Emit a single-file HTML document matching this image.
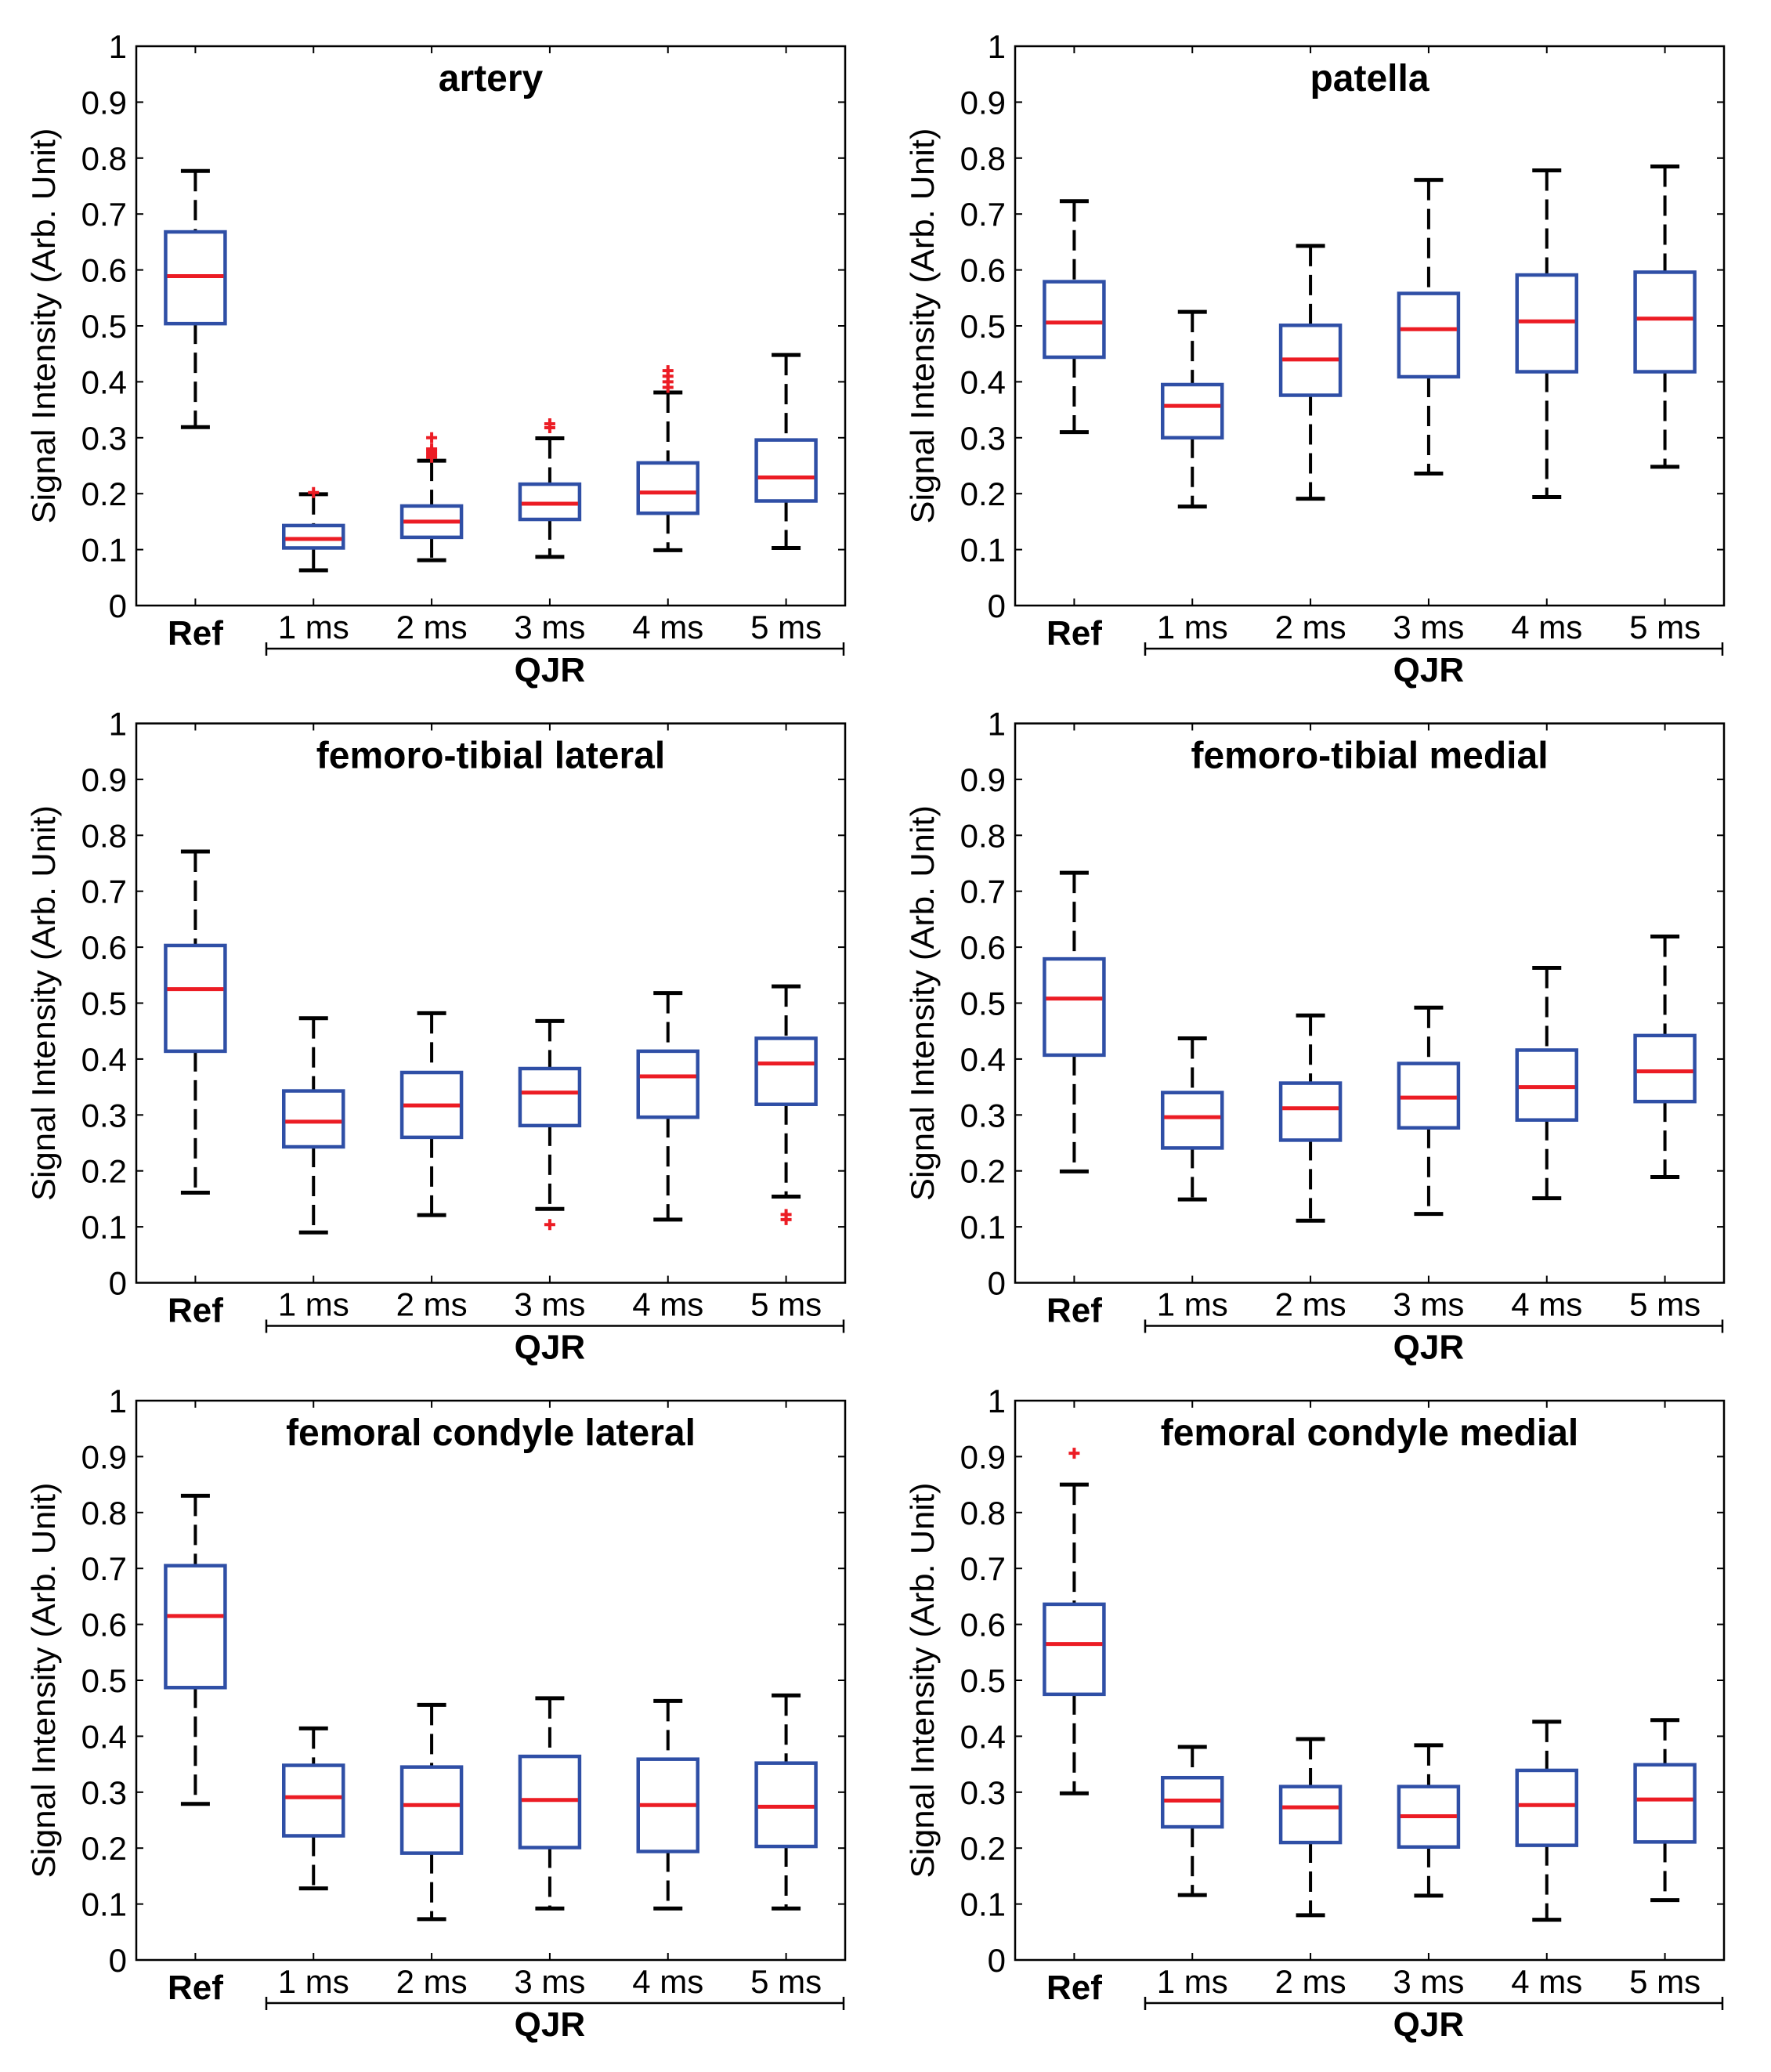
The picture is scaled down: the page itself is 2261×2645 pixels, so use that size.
<!DOCTYPE html>
<html><head><meta charset="utf-8"><style>
html,body{margin:0;padding:0;background:#fff;}
svg{display:block;font-family:"Liberation Sans",Arial,sans-serif;}
</style></head><body>
<svg id="fig" xmlns="http://www.w3.org/2000/svg" width="2261" height="2645" viewBox="0 0 2261 2645"></svg>
<script>
const categories = ["Ref","1 ms","2 ms","3 ms","4 ms","5 ms"];
const panelTitles = ["artery","patella","femoro-tibial lateral","femoro-tibial medial","femoral condyle lateral","femoral condyle medial"];
const yTickLabels = ["0","0.1","0.2","0.3","0.4","0.5","0.6","0.7","0.8","0.9","1"];
const yTickValues = [0,0.1,0.2,0.3,0.4,0.5,0.6,0.7,0.8,0.9,1];
const whiskerLow = [
 [0.319,0.063,0.081,0.087,0.099,0.103],
 [0.310,0.177,0.191,0.236,0.194,0.248],
 [0.161,0.090,0.121,0.132,0.113,0.154],
 [0.199,0.149,0.111,0.123,0.151,0.189],
 [0.279,0.128,0.073,0.092,0.092,0.092],
 [0.298,0.116,0.080,0.115,0.072,0.107]];
const q1Values = [
 [0.504,0.103,0.122,0.154,0.165,0.187],
 [0.444,0.300,0.376,0.409,0.418,0.418],
 [0.414,0.243,0.260,0.281,0.296,0.319],
 [0.407,0.241,0.255,0.277,0.291,0.324],
 [0.487,0.222,0.191,0.201,0.194,0.203],
 [0.475,0.238,0.210,0.202,0.205,0.211]];
const medianValues = [
 [0.589,0.119,0.150,0.182,0.202,0.229],
 [0.506,0.357,0.440,0.494,0.508,0.513],
 [0.525,0.288,0.317,0.340,0.369,0.392],
 [0.508,0.296,0.312,0.331,0.350,0.378],
 [0.615,0.291,0.277,0.286,0.277,0.274],
 [0.565,0.285,0.273,0.257,0.277,0.287]];
const q3Values = [
 [0.668,0.143,0.178,0.217,0.255,0.296],
 [0.579,0.395,0.501,0.558,0.591,0.596],
 [0.603,0.343,0.376,0.383,0.414,0.437],
 [0.579,0.340,0.357,0.392,0.416,0.442],
 [0.705,0.348,0.345,0.364,0.359,0.352],
 [0.636,0.326,0.310,0.310,0.339,0.349]];
const whiskerHigh = [
 [0.777,0.199,0.259,0.299,0.381,0.448],
 [0.723,0.525,0.643,0.761,0.778,0.785],
 [0.771,0.473,0.482,0.468,0.518,0.530],
 [0.733,0.437,0.478,0.492,0.563,0.619],
 [0.830,0.414,0.456,0.468,0.463,0.473],
 [0.850,0.381,0.395,0.384,0.426,0.429]];
const outlierValues = [
 [[],[0.202],[0.265,0.27,0.275,0.28,0.30],[0.318,0.325],[0.39,0.40,0.41,0.42],[]],
 [[],[],[],[],[],[]],
 [[],[],[],[0.104],[],[0.113,0.122]],
 [[],[],[],[],[],[]],
 [[],[],[],[],[],[]],
 [[0.906],[],[],[],[],[]]];

const NS="http://www.w3.org/2000/svg";
const svg=document.getElementById('fig');
const colX=[174,1296], rowY=[59,923.5,1788];
const W=905, H=714;
function mk(tag,attrs,parent){const e=document.createElementNS(NS,tag);for(const k in attrs)e.setAttribute(k,attrs[k]);(parent||svg).appendChild(e);return e;}

for(let p=0;p<6;p++){
  const x0=colX[p%2], y0=rowY[Math.floor(p/2)];
  const g=mk('g',{});
  
  
  const yS=v=>y0+H-v*H;
  const xS=i=>x0+(i+0.5)*W/6;
  const fr=mk('rect',{x:x0,y:y0,width:W,height:H,fill:'none',stroke:'#000','stroke-width':2.5},g);
  
  
  for(let t=0;t<yTickValues.length;t++){
    const y=yS(yTickValues[t]);
    mk('line',{x1:x0,x2:x0+9,y1:y,y2:y,stroke:'#000','stroke-width':2},g);
    mk('line',{x1:x0+W-9,x2:x0+W,y1:y,y2:y,stroke:'#000','stroke-width':2},g);
    const tl=mk('text',{x:x0-12,y:y+15,'text-anchor':'end','font-size':42,fill:'#000'},g);
    tl.textContent=yTickLabels[t];
    
    
  }
  const yt=mk('text',{x:0,y:0,'text-anchor':'middle','font-size':42,fill:'#000',transform:`translate(${x0-104},${y0+H/2}) rotate(-90)`,textLength:505,lengthAdjust:'spacingAndGlyphs'},g);
  yt.textContent='Signal Intensity (Arb. Unit)';
  
  
  const tt=mk('text',{x:x0+W/2,y:y0+57,'text-anchor':'middle','font-size':48,'font-weight':'bold',fill:'#000'},g);
  tt.textContent=panelTitles[p];
  
  
  for(let i=0;i<6;i++){
    const cx=xS(i);
    mk('line',{x1:cx,x2:cx,y1:y0,y2:y0+9,stroke:'#000','stroke-width':2},g);
    mk('line',{x1:cx,x2:cx,y1:y0+H-9,y2:y0+H,stroke:'#000','stroke-width':2},g);
    const xl=mk('text',{x:cx,y:i==0?y0+H+50:y0+H+42,'text-anchor':'middle','font-size':i==0?44:42,'font-weight':i==0?'bold':'normal',fill:'#000'},g);
    xl.textContent=categories[i];
    
    
    const lo=whiskerLow[p][i],a=q1Values[p][i],m=medianValues[p][i],b=q3Values[p][i],hi=whiskerHigh[p][i];
    const bw=76,cw=37;
    const box=mk('g',{},g);
    
    
    mk('line',{x1:cx,x2:cx,y1:yS(hi),y2:yS(b),stroke:'#000','stroke-width':4,'stroke-dasharray':'26 11'},box);
    mk('line',{x1:cx,x2:cx,y1:yS(a),y2:yS(lo),stroke:'#000','stroke-width':4,'stroke-dasharray':'26 11'},box);
    mk('line',{x1:cx-cw/2,x2:cx+cw/2,y1:yS(hi),y2:yS(hi),stroke:'#000','stroke-width':5},box);
    mk('line',{x1:cx-cw/2,x2:cx+cw/2,y1:yS(lo),y2:yS(lo),stroke:'#000','stroke-width':5},box);
    mk('rect',{x:cx-bw/2,y:yS(b),width:bw,height:yS(a)-yS(b),fill:'#fff',stroke:'#2f4fa6','stroke-width':4.5},box);
    mk('line',{x1:cx-bw/2+2,x2:cx+bw/2-2,y1:yS(m),y2:yS(m),stroke:'#ec1c24','stroke-width':5},box);
    for(const o of outlierValues[p][i]){
      const oy=yS(o);
      const pl=mk('path',{d:`M${cx-7},${oy}h14M${cx},${oy-7}v14`,stroke:'#ec1c24','stroke-width':4},box);
      
      
    }
  }
  const by=y0+H+55, bx1=x0+166, bx2=x0+W-2;
  const br=mk('path',{d:`M${bx1},${by}H${bx2}M${bx1},${by-8}v17M${bx2},${by-8}v17`,stroke:'#000','stroke-width':2.5,fill:'none'},g);
  
  
  const q=mk('text',{x:xS(3),y:y0+H+97,'text-anchor':'middle','font-size':44,'font-weight':'bold',fill:'#000'},g);
  q.textContent='QJR';
  
  
}
</script>
</body></html>
